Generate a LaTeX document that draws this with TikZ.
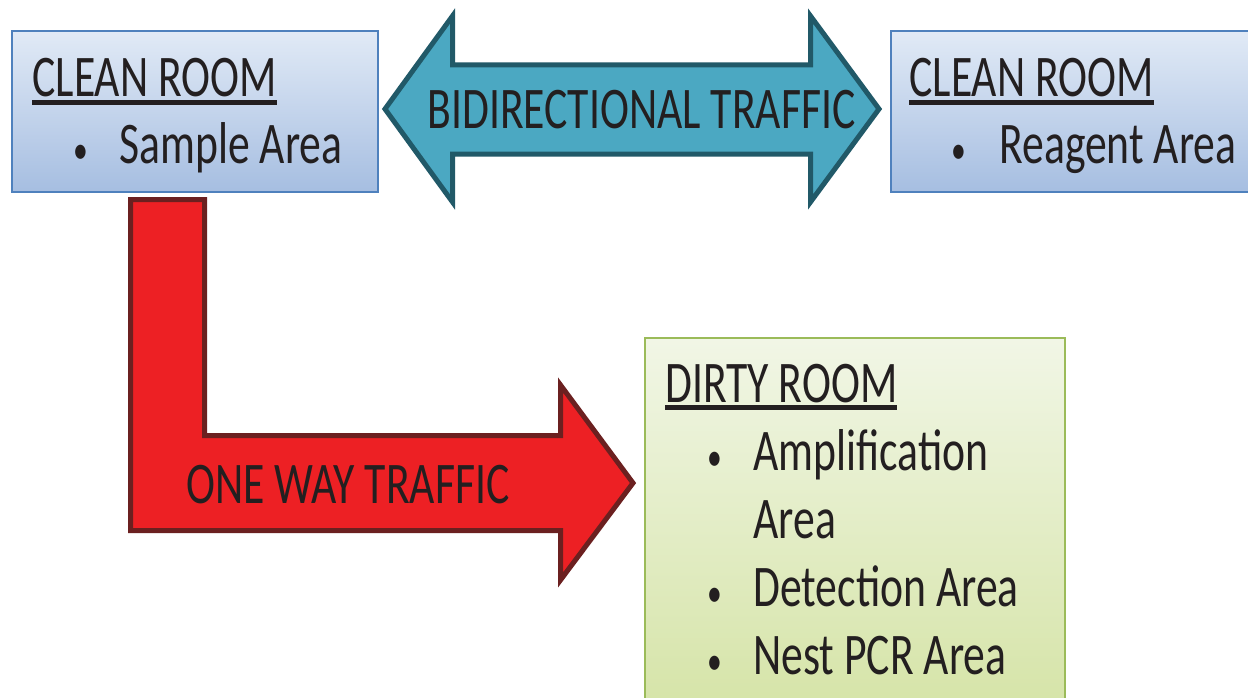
\documentclass[tikz,border=0pt]{standalone}
\usepackage{fontspec}
\setmainfont{Carlito}[FakeStretch=0.74]
\usetikzlibrary{positioning}

\definecolor{inkdark}{HTML}{231F20}
\definecolor{roomline}{HTML}{4F81BD}
\definecolor{roomtop}{HTML}{E1EAF6}
\definecolor{roombot}{HTML}{A6BEE1}
\definecolor{dirtyline}{HTML}{9BBB59}
\definecolor{dirtytop}{HTML}{F1F6E6}
\definecolor{dirtybot}{HTML}{D4E3A4}
\definecolor{bidirfill}{HTML}{4BA8C2}
\definecolor{bidirline}{HTML}{215968}
\definecolor{onewayfill}{HTML}{ED2024}
\definecolor{onewayline}{HTML}{6B2020}

\newcommand{\roomhead}[1]{\setbox0\hbox{#1}\rlap{\rule[-4bp]{\wd0}{2.5bp}}\box0}

\begin{document}
\begin{tikzpicture}
[x=0.5bp,y=-0.5bp,
 room/.style={draw=roomline,line width=1bp,top color=roomtop,bottom color=roombot,
    inner sep=0pt,minimum height=80.25bp},
 dirty/.style={draw=dirtyline,line width=1bp,top color=dirtytop,bottom color=dirtybot,
    inner sep=0pt,minimum width=210bp,minimum height=196bp},
 txt/.style={inner sep=0pt,anchor=base west,text=inkdark,font=\fontsize{29.5bp}{34bp}\selectfont},
 bul/.style={txt,anchor=base,font=\fontsize{20bp}{24bp}\selectfont},
 bidir/.style={fill=bidirfill,draw=bidirline,line width=2.5bp},
 oneway/.style={fill=onewayfill,draw=onewayline,line width=2.5bp}]
\path[use as bounding box,clip] (0,0) rectangle (1248,697);
\fill[white] (0,0) rectangle (1248,697);

% clean room, sample side
\node[room,minimum width=182.5bp] (sample) at (195,111.25) {};
\node[txt] (samplehead) at (32,97) {\roomhead{CLEAN ROOM}};
\node[bul] (samplebul) at (81,163) {•};
\node[txt] (sampletext) at (119,163) {Sample Area};

% clean room, reagent side
\node[room,minimum width=189.75bp] (reagent) at (1080.25,111.25) {};
\node[txt] (reagenthead) at (909,97) {\roomhead{CLEAN ROOM}};
\node[bul] (reagentbul) at (959,163) {•};
\node[txt] (reagenttext) at (999,163) {Reagent Area};

% traffic between the clean rooms
\filldraw[bidir] (385,109) -- (452.5,16) -- (452.5,65) -- (810.5,65) -- (810.5,16)
  -- (879,109) -- (810.5,202) -- (810.5,154) -- (452.5,154) -- (452.5,202) -- cycle;
\node[txt] (bidirtext) at (427,128) {BIDIRECTIONAL TRAFFIC};

% traffic into the dirty room
\filldraw[oneway] (130.5,199.5) -- (204.5,199.5) -- (204.5,435.5) -- (560.5,435.5)
  -- (560.5,385) -- (633,483) -- (560.5,580) -- (560.5,530.5) -- (130.5,530.5) -- cycle;
\node[txt] (onewaytext) at (186,503) {ONE WAY TRAFFIC};

% dirty room
\node[dirty] (dirty) at (855,534) {};
\node[txt] (dirtyhead) at (665,402) {\roomhead{DIRTY ROOM}};
\node[bul] (ampbul) at (715,470) {•};
\node[txt] (amptext) at (753,470) {Amplification};
\node[txt] (amptext2) at (753,538) {Area};
\node[bul] (detbul) at (715,606) {•};
\node[txt] (dettext) at (753,606) {Detection Area};
\node[bul] (nestbul) at (715,674) {•};
\node[txt] (nesttext) at (753,674) {Nest PCR Area};
\end{tikzpicture}
\end{document}
